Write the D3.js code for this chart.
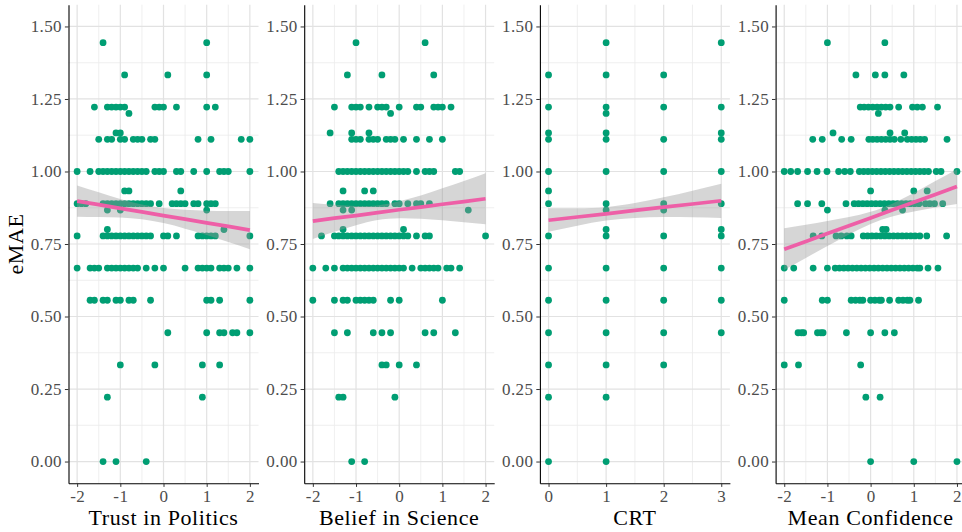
<!DOCTYPE html>
<html>
<head>
<meta charset="utf-8">
<script src="https://cdn.jsdelivr.net/npm/d3@7"></script>
<style>
  html, body { margin: 0; padding: 0; background: #ffffff; }
  svg { display: block; }
  text { font-family: "Liberation Serif", "Times New Roman", serif; }
</style>
</head>
<body>
<svg id="chart" width="962" height="532"></svg>
<script>
// ---------------- DATA ----------------
const panelTitles = ["Trust in Politics", "Belief in Science", "CRT", "Mean Confidence"];
const yAxisTitle = "eMAE";
const yTicks = [0, 0.25, 0.5, 0.75, 1.0, 1.25, 1.5];
const yMinor = [0.125, 0.375, 0.625, 0.875, 1.125, 1.375];
const xTicksWide = [-2, -1, 0, 1, 2];
const xMinorWide = [-1.5, -0.5, 0.5, 1.5];
const xTicksCRT = [0, 1, 2, 3];
const xMinorCRT = [0.5, 1.5, 2.5];

// rows: [eMAE value, [x values]]
const trustRows = [
  [1.444, [-1.4, 1.0]],
  [1.333, [-0.9, 0.1, 1.0]],
  [1.222, [-1.6, -1.3, -1.2, -1.1, -1.0, -0.9, -0.2, -0.1, 0.0, 0.3, 1.0, 1.2]],
  [1.2, [-0.8]],
  [1.133, [-1.1, -1.0]],
  [1.111, [-1.5, -1.3, -1.2, -1.0, -0.9, -0.7, -0.6, -0.5, -0.3, -0.2, 0.8, 1.1, 1.8, 2.0]],
  [1.0, [-2.0, -1.7, -1.5, -1.4, -1.3, -1.2, -1.1, -1.0, -0.9, -0.8, -0.7, -0.6, -0.5, -0.4, -0.2, -0.1, 0.0, 0.3, 0.4, 0.7, 1.0, 1.3, 1.4, 1.5, 2.0]],
  [0.933, [-0.9, -0.8, 0.4]],
  [0.889, [-2.0, -1.9, -1.8, -1.4, -1.3, -1.2, -1.1, -1.0, -0.9, -0.8, -0.7, -0.6, -0.5, -0.4, -0.3, -0.1, 0.2, 0.3, 0.4, 0.5, 0.7, 0.8, 1.0, 1.1, 1.2]],
  [0.867, [-1.3, -1.0, 1.0]],
  [0.8, [-1.3, 1.4]],
  [0.778, [-2.0, -1.4, -1.3, -1.2, -1.1, -1.0, -0.9, -0.8, -0.7, -0.6, -0.5, -0.4, -0.3, 0.0, 0.1, 0.3, 0.8, 0.9, 1.0, 1.1, 1.2, 2.0]],
  [0.667, [-2.0, -1.7, -1.6, -1.5, -1.3, -1.2, -1.1, -1.0, -0.9, -0.8, -0.7, -0.6, -0.4, -0.2, 0.0, 0.5, 0.8, 0.9, 1.0, 1.1, 1.3, 1.4, 1.5, 1.7, 2.0]],
  [0.556, [-1.7, -1.6, -1.4, -1.3, -1.1, -1.0, -0.8, -0.7, -0.3, 1.0, 1.1, 1.3, 2.0]],
  [0.444, [0.1, 1.0, 1.3, 1.4, 1.6, 1.7, 2.0]],
  [0.333, [-1.0, -0.2, 0.9, 1.3]],
  [0.222, [-1.3, 0.9]],
  [0.0, [-1.4, -1.1, -0.4]]
];

const beliefRows = [
  [1.444, [-1.0, 0.6]],
  [1.333, [-1.2, -0.4, 0.8]],
  [1.222, [-1.5, -1.1, -1.0, -0.9, -0.7, -0.5, -0.4, -0.3, 0.0, 0.4, 0.5, 0.8, 0.9, 1.0, 1.2]],
  [1.2, [-0.2]],
  [1.133, [-1.6, -1.1, -0.7]],
  [1.111, [-1.1, -1.0, -0.9, -0.7, -0.6, -0.5, -0.3, -0.2, -0.1, 0.1, 0.4, 0.7, 1.0]],
  [1.0, [-1.4, -1.3, -1.2, -1.1, -1.0, -0.9, -0.8, -0.7, -0.6, -0.5, -0.4, -0.3, -0.2, -0.1, 0.0, 0.1, 0.2, 0.4, 0.6, 0.7, 0.8, 1.3, 1.4]],
  [0.933, [-1.3, -0.8, -0.6]],
  [0.889, [-1.6, -1.4, -1.3, -1.2, -1.1, -1.0, -0.9, -0.8, -0.7, -0.6, -0.5, -0.4, -0.3, -0.1, 0.0, 0.2, 0.4, 0.5, 0.7]],
  [0.867, [-1.3, -1.1, 1.6]],
  [0.8, [-1.3, 0.1]],
  [0.778, [-1.8, -1.5, -1.4, -1.3, -1.2, -1.1, -1.0, -0.9, -0.8, -0.7, -0.6, -0.5, -0.4, -0.3, -0.2, -0.1, 0.0, 0.1, 0.2, 0.4, 0.6, 0.7, 2.0]],
  [0.667, [-2.0, -1.7, -1.5, -1.3, -1.2, -1.1, -1.0, -0.9, -0.8, -0.7, -0.6, -0.5, -0.4, -0.3, -0.2, -0.1, 0.0, 0.1, 0.3, 0.5, 0.6, 0.7, 0.8, 0.9, 1.1, 1.2, 1.4]],
  [0.556, [-2.0, -1.5, -1.3, -1.2, -1.0, -0.9, -0.8, -0.7, -0.6, -0.2, 0.0, 1.0]],
  [0.444, [-1.5, -1.2, -0.6, -0.4, -0.2, 0.6, 0.8, 1.3]],
  [0.333, [-0.4, -0.3, 0.0, 0.4]],
  [0.222, [-1.4, -1.3, -0.1]],
  [0.0, [-1.1, -0.8]]
];

// columns: [CRT score, [eMAE values]]
const crtCols = [
  [0, [1.333, 1.222, 1.133, 1.111, 1.0, 0.933, 0.889, 0.778, 0.667, 0.556, 0.444, 0.333, 0.222, 0.0]],
  [1, [1.444, 1.333, 1.222, 1.2, 1.133, 1.111, 1.0, 0.889, 0.867, 0.8, 0.778, 0.667, 0.556, 0.444, 0.333, 0.222, 0.0]],
  [2, [1.333, 1.222, 1.111, 1.0, 0.889, 0.867, 0.778, 0.667, 0.556, 0.444, 0.333]],
  [3, [1.444, 1.222, 1.133, 1.111, 1.0, 0.889, 0.8, 0.778, 0.667, 0.556, 0.444]]
];

const confRows = [
  [1.444, [-1.0, 0.33]],
  [1.333, [-0.34, 0.11, 0.33, 0.77]],
  [1.222, [-0.24, -0.15, -0.05, 0.05, 0.15, 0.25, 0.35, 0.45, 0.65, 0.97, 1.08, 1.2, 1.55]],
  [1.2, [0.18]],
  [1.133, [-0.87, 0.45, 0.79]],
  [1.111, [-1.34, -1.12, -0.67, -0.45, -0.04, 0.05, 0.15, 0.25, 0.35, 0.45, 0.55, 0.7, 0.85, 0.95, 1.05, 1.15, 1.25, 1.77]],
  [1.0, [-2.0, -1.85, -1.69, -1.46, -1.24, -1.01, -0.74, -0.6, -0.47, -0.26, -0.16, -0.06, 0.04, 0.14, 0.24, 0.34, 0.44, 0.54, 0.64, 0.74, 0.84, 0.94, 1.04, 1.14, 1.24, 1.34, 1.52, 1.63, 2.0]],
  [0.933, [0.0, 1.0, 1.31]],
  [0.889, [-1.69, -1.46, -1.13, -0.57, -0.38, -0.28, -0.18, -0.08, 0.02, 0.12, 0.22, 0.32, 0.42, 0.52, 0.62, 0.72, 0.82, 0.92, 1.02, 1.12, 1.27, 1.37, 1.48, 1.67]],
  [0.867, [-1.0, 0.33, 0.74]],
  [0.8, [0.28, 0.36]],
  [0.778, [-1.33, -1.13, -0.8, -0.68, -0.55, -0.45, -0.17, -0.07, 0.03, 0.13, 0.23, 0.33, 0.43, 0.53, 0.63, 0.73, 0.83, 0.93, 1.03, 1.14, 1.3, 1.76]],
  [0.667, [-2.0, -1.78, -1.33, -1.0, -0.82, -0.72, -0.62, -0.52, -0.42, -0.32, -0.22, -0.12, -0.02, 0.08, 0.18, 0.28, 0.38, 0.48, 0.58, 0.68, 0.78, 0.88, 0.98, 1.08, 1.14, 1.33, 1.56]],
  [0.556, [-2.0, -1.12, -1.0, -0.45, -0.35, -0.25, -0.18, 0.0, 0.1, 0.2, 0.25, 0.44, 0.65, 0.75, 0.85, 0.91, 1.11]],
  [0.444, [-1.68, -1.6, -1.55, -1.23, -1.15, -1.1, -0.56, 0.0, 0.33, 0.55]],
  [0.333, [-2.0, -1.67, -0.23]],
  [0.222, [-0.11, 0.22]],
  [0.0, [0.0, 1.0, 2.0]]
];

// fitted line and 95% band, at sample x positions
const trustFitX  = [-2, -1.5, -1, -0.5, 0, 0.5, 1, 1.5, 2];
const trustFitY  = [0.898, 0.886, 0.873, 0.861, 0.848, 0.836, 0.823, 0.811, 0.798];
const trustFitLo = [0.844, 0.843, 0.841, 0.835, 0.822, 0.803, 0.781, 0.757, 0.732];
const trustFitHi = [0.952, 0.928, 0.905, 0.886, 0.874, 0.868, 0.865, 0.864, 0.864];

const beliefFitX  = [-2, -1.5, -1, -0.5, 0, 0.5, 1, 1.5, 2];
const beliefFitY  = [0.829, 0.839, 0.848, 0.858, 0.868, 0.877, 0.887, 0.896, 0.906];
const beliefFitLo = [0.767, 0.792, 0.815, 0.833, 0.839, 0.837, 0.832, 0.825, 0.818];
const beliefFitHi = [0.891, 0.885, 0.881, 0.883, 0.897, 0.917, 0.942, 0.967, 0.994];

const crtFitX  = [0, 0.5, 1, 1.5, 2, 2.5, 3];
const crtFitY  = [0.832, 0.843, 0.854, 0.866, 0.877, 0.888, 0.899];
const crtFitLo = [0.792, 0.813, 0.831, 0.840, 0.843, 0.842, 0.840];
const crtFitHi = [0.873, 0.873, 0.877, 0.891, 0.911, 0.934, 0.958];

const confFitX  = [-2, -1.5, -1, -0.5, 0, 0.5, 1, 1.5, 2];
const confFitY  = [0.732, 0.759, 0.786, 0.813, 0.840, 0.867, 0.894, 0.921, 0.948];
const confFitLo = [0.660, 0.702, 0.743, 0.783, 0.819, 0.845, 0.862, 0.876, 0.888];
const confFitHi = [0.804, 0.816, 0.829, 0.843, 0.861, 0.889, 0.926, 0.967, 1.008];

// ---------------- PANELS ----------------
function rowsToPoints(rows) {
  const pts = [];
  rows.forEach(([y, xs]) => xs.forEach(x => pts.push({x: x, y: y})));
  return pts;
}
function colsToPoints(cols) {
  const pts = [];
  cols.forEach(([x, ys]) => ys.forEach(y => pts.push({x: x, y: y})));
  return pts;
}
function fitRows(xs, ys, lo, hi) {
  return xs.map((x, i) => ({x: x, y: ys[i], lo: lo[i], hi: hi[i]}));
}

const panels = [
  {title: panelTitles[0], lim: [-2, 2], ticks: xTicksWide, minor: xMinorWide,
   points: rowsToPoints(trustRows), fit: fitRows(trustFitX, trustFitY, trustFitLo, trustFitHi)},
  {title: panelTitles[1], lim: [-2, 2], ticks: xTicksWide, minor: xMinorWide,
   points: rowsToPoints(beliefRows), fit: fitRows(beliefFitX, beliefFitY, beliefFitLo, beliefFitHi)},
  {title: panelTitles[2], lim: [0, 3], ticks: xTicksCRT, minor: xMinorCRT,
   points: colsToPoints(crtCols), fit: fitRows(crtFitX, crtFitY, crtFitLo, crtFitHi)},
  {title: panelTitles[3], lim: [-2, 2], ticks: xTicksWide, minor: xMinorWide,
   points: rowsToPoints(confRows), fit: fitRows(confFitX, confFitY, confFitLo, confFitHi)}
];

// ---------------- LAYOUT ----------------
const svg = d3.select("#chart");
const panelTop = 4.7, panelBottom = 483.3;
const panelW = 190, panelStep = 235.7, firstLeft = 68.5;
const panelH = panelBottom - panelTop;

const GREEN = "#009E73", PINK = "#EE5FA7";

const y = d3.scaleLinear().domain([-0.075, 1.575]).range([panelH, 0]);

panels.forEach((p, i) => {
  const left = firstLeft + i * panelStep;
  const span = p.lim[1] - p.lim[0];
  const x = d3.scaleLinear().domain([p.lim[0] - 0.05 * span, p.lim[1] + 0.05 * span]).range([0, panelW]);
  const g = svg.append("g").attr("transform", `translate(${left},${panelTop})`);

  // grid
  const grid = g.append("g");
  grid.selectAll("line.ymin").data(yMinor).join("line")
    .attr("x1", 0).attr("x2", panelW).attr("y1", d => y(d)).attr("y2", d => y(d))
    .attr("stroke", "#ebebeb").attr("stroke-width", 0.8);
  grid.selectAll("line.xmin").data(p.minor).join("line")
    .attr("y1", 0).attr("y2", panelH).attr("x1", d => x(d)).attr("x2", d => x(d))
    .attr("stroke", "#ebebeb").attr("stroke-width", 0.8);
  grid.selectAll("line.ymaj").data(yTicks).join("line")
    .attr("x1", 0).attr("x2", panelW).attr("y1", d => y(d)).attr("y2", d => y(d))
    .attr("stroke", "#e2e2e2").attr("stroke-width", 1.2);
  grid.selectAll("line.xmaj").data(p.ticks).join("line")
    .attr("y1", 0).attr("y2", panelH).attr("x1", d => x(d)).attr("x2", d => x(d))
    .attr("stroke", "#e2e2e2").attr("stroke-width", 1.2);

  // points
  g.append("g").selectAll("circle").data(p.points).join("circle")
    .attr("cx", d => x(d.x)).attr("cy", d => y(d.y)).attr("r", 3.4)
    .attr("fill", GREEN);

  // ribbon
  const area = d3.area().curve(d3.curveNatural)
    .x(d => x(d.x)).y0(d => y(d.lo)).y1(d => y(d.hi));
  g.append("path").datum(p.fit).attr("d", area)
    .attr("fill", "#999999").attr("fill-opacity", 0.4);

  // line
  const line = d3.line().x(d => x(d.x)).y(d => y(d.y));
  g.append("path").datum(p.fit).attr("d", line)
    .attr("fill", "none").attr("stroke", PINK).attr("stroke-width", 3.7);

  // axes
  const ya = g.append("g").call(d3.axisLeft(y).tickValues(yTicks).tickFormat(d3.format(".2f"))
    .tickSize(3.6).tickSizeOuter(0).tickPadding(2.9));
  const xa = g.append("g").attr("transform", `translate(0,${panelH})`)
    .call(d3.axisBottom(x).tickValues(p.ticks).tickFormat(d => d < 0 ? "-" + Math.abs(d) : String(d))
    .tickSize(3.6).tickSizeOuter(0).tickPadding(2.9));
  [ya, xa].forEach(a => {
    a.select(".domain").attr("stroke", "#000").attr("stroke-width", 1.1);
    a.selectAll(".tick line").attr("stroke", "#333333").attr("stroke-width", 1);
    a.selectAll(".tick text").attr("fill", "#4d4d4d")
      .style("font-family", '"Liberation Serif", serif').style("font-size", "17px")
      .style("letter-spacing", "0.4px");
  });

  // x title
  svg.append("text")
    .attr("x", left + panelW / 2).attr("y", 525)
    .attr("text-anchor", "middle")
    .style("font-size", "22px").style("letter-spacing", "0.6px")
    .attr("fill", "#000").text(p.title);
});

// y title
svg.append("text")
  .attr("transform", `translate(22.5,${panelTop + panelH / 2}) rotate(-90)`)
  .attr("text-anchor", "middle")
  .style("font-size", "22px").style("letter-spacing", "0.6px")
  .attr("fill", "#000").text(yAxisTitle);
</script>
</body>
</html>
